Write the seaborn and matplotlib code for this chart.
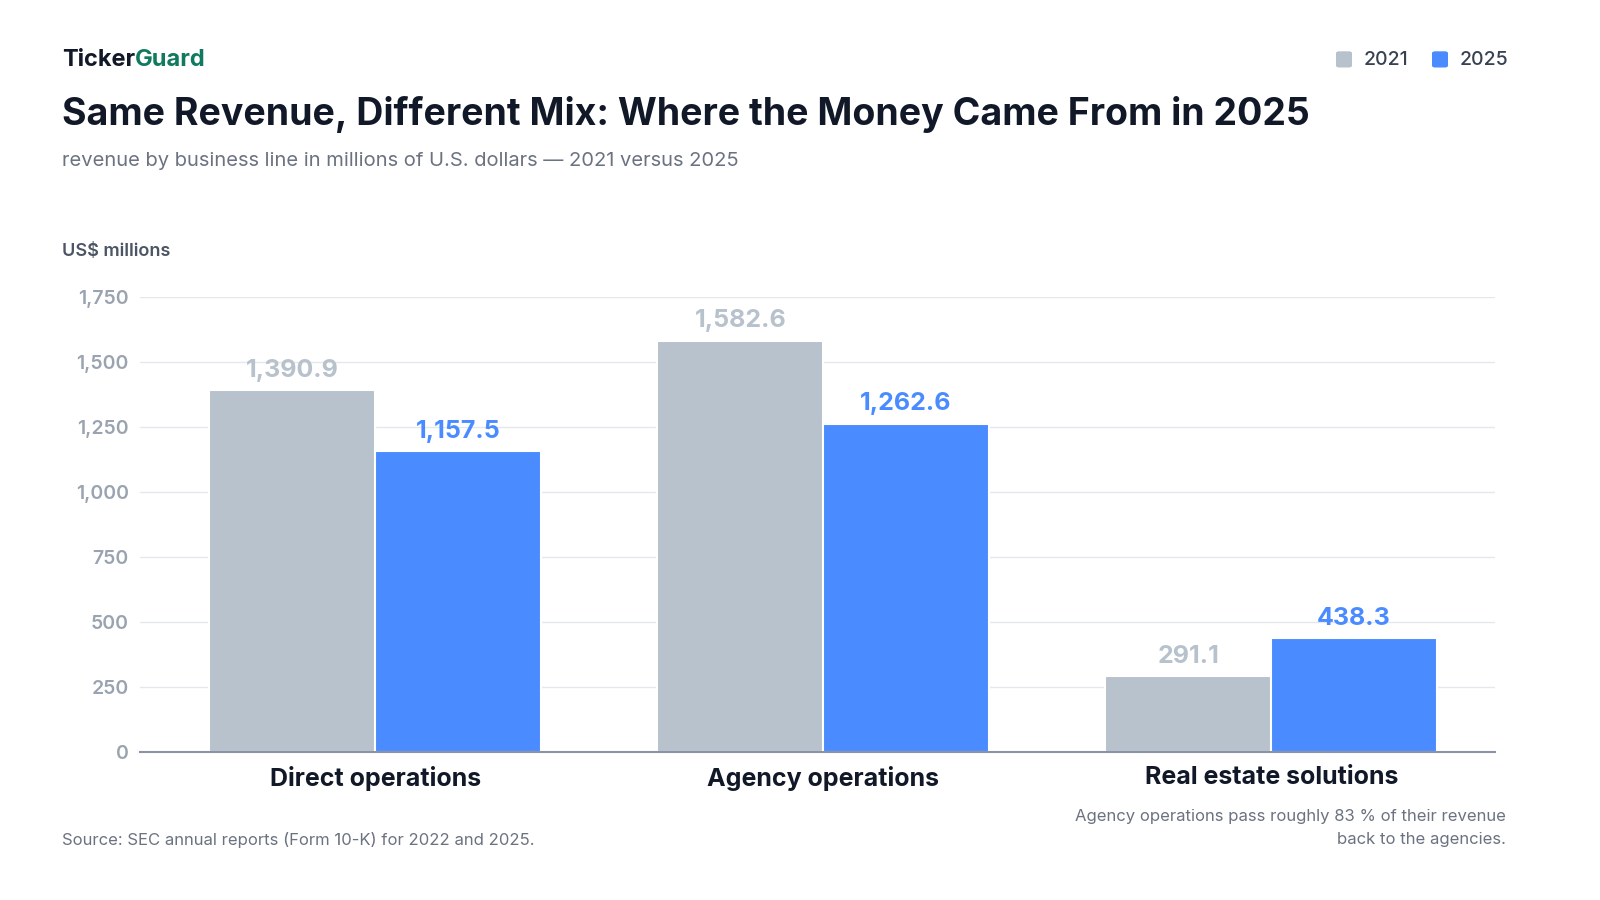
import matplotlib
matplotlib.use("Agg")
import matplotlib.pyplot as plt
import seaborn as sns
import pandas as pd

categories = ["Direct operations", "Agency operations", "Real estate solutions"]
rev_2021 = [1390.9, 1582.6, 291.1]
rev_2025 = [1157.5, 1262.6, 438.3]
years = ["2021", "2025"]
yticks = [0, 250, 500, 750, 1000, 1250, 1500, 1750]

df = pd.DataFrame({
    "category": categories * 2,
    "year": [years[0]] * 3 + [years[1]] * 3,
    "value": rev_2021 + rev_2025,
})

sns.set_theme(style="white")
plt.rcParams["font.family"] = ["Inter", "DejaVu Sans"]

grey = "#b8c2cc"
blue = "#4a8cff"
dark = "#111827"
muted = "#6b7280"

fig = plt.figure(figsize=(16, 9), dpi=100)
ax = fig.add_axes([0.0875, 0.1644, 0.847, 0.5056])

sns.barplot(data=df, x="category", y="value", hue="year", order=categories,
            hue_order=years, palette=[grey, blue], width=0.74, ax=ax,
            edgecolor="white", linewidth=1.5, legend=False, saturation=1)

ax.set_ylim(0, 1750)
ax.set_xlim(-0.525, 2.5)
ax.set_yticks(yticks)
ax.set_yticklabels([f"{v:,}" for v in yticks], color="#9aa3b0", fontsize=14, fontweight="semibold")
ax.tick_params(axis="y", length=0, pad=8)
ax.tick_params(axis="x", length=0, pad=10)
ax.set_xticklabels(categories, fontsize=18, fontweight="bold", color=dark)
ax.set_xlabel("")
ax.set_ylabel("")
ax.grid(axis="y", color="#e5e7eb", linewidth=1)
ax.set_axisbelow(True)
for s in ["top", "right", "left"]:
    ax.spines[s].set_visible(False)
ax.spines["bottom"].set_color("#8a93a6")
ax.spines["bottom"].set_linewidth(1.5)

for cont, col in zip(ax.containers, [grey, blue]):
    ax.bar_label(cont, labels=[f"{v.get_height():,.1f}" for v in cont], padding=6,
                 color=col, fontsize=18, fontweight="bold")

fig.text(0.039, 0.933, "Ticker", fontsize=17, fontweight="bold", color=dark, va="center")
fig.text(0.0845, 0.933, "Guard", fontsize=17, fontweight="bold", color="#0f7a5f", va="center")
fig.text(0.039, 0.873, "Same Revenue, Different Mix: Where the Money Came From in 2025",
         fontsize=27, fontweight="bold", color=dark, va="center")
fig.text(0.039, 0.821, "revenue by business line in millions of U.S. dollars — 2021 versus 2025",
         fontsize=14.5, color=muted, va="center")
fig.text(0.039, 0.720, "US$ millions", fontsize=13, fontweight="semibold", color="#4b5563", va="center")
fig.text(0.039, 0.067, "Source: SEC annual reports (Form 10-K) for 2022 and 2025.",
         fontsize=12, color=muted, va="center")
fig.text(0.941, 0.080, "Agency operations pass roughly 83 % of their revenue\nback to the agencies.",
         fontsize=12, color=muted, ha="right", va="center", linespacing=1.6)

# legend
for x, col, lab in [(0.835, grey, "2021"), (0.895, blue, "2025")]:
    fig.patches.append(matplotlib.patches.FancyBboxPatch(
        (x, 0.925), 0.010, 0.018, boxstyle="round,pad=0,rounding_size=0.002",
        transform=fig.transFigure, facecolor=col, edgecolor="none"))
    fig.text(x + 0.017, 0.933, lab, fontsize=14, color="#374151", va="center", fontweight="medium")

fig.savefig("out.png", dpi=100, facecolor="white")
